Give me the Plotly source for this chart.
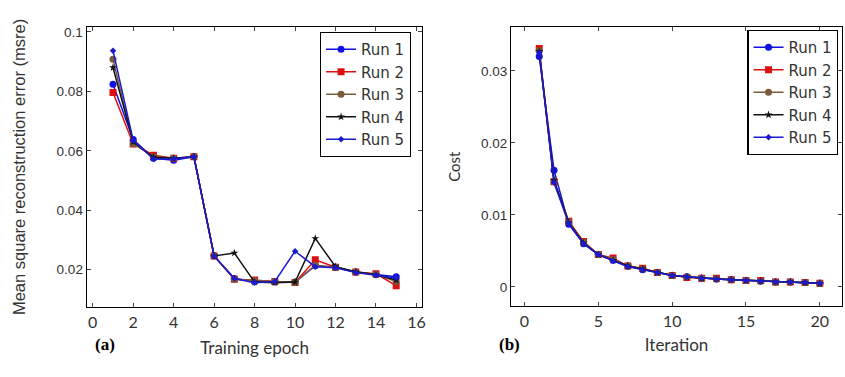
import plotly.graph_objects as go

# ---- data: panel (a) ----
epochs = list(range(1, 16))
msre_run1 = [0.0824, 0.0638, 0.0575, 0.0568, 0.0580, 0.0247, 0.0170, 0.0160, 0.0158, 0.0158, 0.0213, 0.0208, 0.0191, 0.0183, 0.0176]
msre_run2 = [0.0796, 0.0623, 0.0585, 0.0575, 0.0580, 0.0246, 0.0168, 0.0165, 0.0160, 0.0157, 0.0233, 0.0208, 0.0192, 0.0186, 0.0146]
msre_run3 = [0.0908, 0.0624, 0.0580, 0.0575, 0.0580, 0.0246, 0.0168, 0.0163, 0.0160, 0.0157, 0.0215, 0.0208, 0.0192, 0.0184, 0.0160]
msre_run4 = [0.0880, 0.0630, 0.0578, 0.0575, 0.0580, 0.0246, 0.0256, 0.0158, 0.0156, 0.0158, 0.0305, 0.0210, 0.0193, 0.0183, 0.0165]
msre_run5 = [0.0937, 0.0635, 0.0572, 0.0573, 0.0580, 0.0245, 0.0170, 0.0156, 0.0160, 0.0262, 0.0210, 0.0206, 0.0190, 0.0182, 0.0172]

# ---- data: panel (b) ----
iterations = list(range(1, 21))
cost_run1 = [0.0320, 0.0162, 0.0087, 0.0060, 0.0045, 0.0037, 0.0029, 0.0024, 0.0020, 0.0016, 0.0014, 0.0012, 0.0011, 0.0010, 0.0009, 0.0008, 0.0007, 0.0007, 0.0006, 0.0005]
cost_run2 = [0.0331, 0.0146, 0.0091, 0.0063, 0.0045, 0.0040, 0.0029, 0.0026, 0.0020, 0.0016, 0.0013, 0.0012, 0.0012, 0.0010, 0.0009, 0.0009, 0.0007, 0.0007, 0.0006, 0.0005]
cost_run3 = [0.0328, 0.0146, 0.0090, 0.0062, 0.0045, 0.0038, 0.0029, 0.0025, 0.0020, 0.0016, 0.0014, 0.0012, 0.0011, 0.0010, 0.0009, 0.0008, 0.0007, 0.0007, 0.0006, 0.0005]
cost_run4 = [0.0327, 0.0148, 0.0089, 0.0061, 0.0045, 0.0037, 0.0029, 0.0025, 0.0020, 0.0016, 0.0014, 0.0012, 0.0011, 0.0010, 0.0009, 0.0008, 0.0007, 0.0007, 0.0006, 0.0005]
cost_run5 = [0.0325, 0.0145, 0.0088, 0.0060, 0.0045, 0.0036, 0.0028, 0.0024, 0.0020, 0.0016, 0.0014, 0.0012, 0.0011, 0.0010, 0.0009, 0.0008, 0.0007, 0.0007, 0.0006, 0.0005]

run_names = ["Run 1", "Run 2", "Run 3", "Run 4", "Run 5"]
run_colors = ["#1010e0", "#dd1010", "#7a5a3a", "#111111", "#1a1ad0"]
run_symbols = ["circle", "square", "circle", "star", "diamond"]
run_sizes = [7, 7, 7, 6, 5]

W, H = 845, 377
def px_x(p): return p / W
def px_y(p): return 1 - p / H

fig = go.Figure()
msre_sets = [msre_run1, msre_run2, msre_run3, msre_run4, msre_run5]
cost_sets = [cost_run1, cost_run2, cost_run3, cost_run4, cost_run5]
for i in range(5):
    fig.add_trace(go.Scatter(
        x=epochs, y=msre_sets[i], name=run_names[i], mode="lines+markers",
        line=dict(color=run_colors[i], width=1.5),
        marker=dict(symbol=run_symbols[i], size=run_sizes[i], color=run_colors[i]),
        xaxis="x", yaxis="y", legend="legend"))
for i in range(5):
    fig.add_trace(go.Scatter(
        x=iterations, y=cost_sets[i], name=run_names[i], mode="lines+markers",
        line=dict(color=run_colors[i], width=1.5),
        marker=dict(symbol=run_symbols[i], size=run_sizes[i], color=run_colors[i]),
        xaxis="x2", yaxis="y2", legend="legend2"))

sans = "Liberation Sans, Arial, sans-serif"
cm = "Lato, sans-serif"
axis_common = dict(showline=True, linecolor="black", linewidth=1.2, mirror="allticks",
                   ticks="inside", ticklen=4, tickcolor="#444", showgrid=False, zeroline=False)
xfont = dict(family=cm, size=16, color="#333")
yfont = dict(family=sans, size=13.5, color="#333")

legend_common = dict(xanchor="left", yanchor="top", bgcolor="white",
                     bordercolor="black", borderwidth=1.2,
                     font=dict(family="DejaVu Sans, sans-serif", size=15, color="#333"),
                     tracegroupgap=0, itemwidth=30)

fig.update_layout(
    width=W, height=H, margin=dict(l=0, r=0, t=0, b=0),
    paper_bgcolor="white", plot_bgcolor="white",
    font=dict(family=sans, color="#333"),
    xaxis=dict(domain=[px_x(87), px_x(424)], range=[-0.3, 16.3], tickvals=list(range(0, 17, 2)),
               anchor="y", tickfont=xfont,
               title=dict(text="Training epoch", font=dict(family=cm, size=17, color="#333"), standoff=12),
               **axis_common),
    yaxis=dict(domain=[px_y(307), px_y(25)], range=[0.0073, 0.1017], tickvals=[0.02, 0.04, 0.06, 0.08, 0.1],
               ticktext=["0.02", "0.04", "0.06", "0.08", "0.1"], anchor="x", tickfont=yfont,
               **axis_common),
    xaxis2=dict(domain=[px_x(513), 1.0], range=[-0.9, 21.5], tickvals=[0, 5, 10, 15, 20],
                anchor="y2", tickfont=xfont,
                title=dict(text="Iteration", font=dict(family=cm, size=17, color="#333"), standoff=10),
                **axis_common),
    yaxis2=dict(domain=[px_y(306), px_y(25)], range=[-0.0027, 0.0361], tickvals=[0, 0.01, 0.02, 0.03],
                ticktext=["0", "0.01", "0.02", "0.03"], anchor="x2", tickfont=yfont,
                title=dict(text="Cost", font=dict(family=cm, size=15, color="#333"), standoff=16),
                **axis_common),
    legend=dict(x=px_x(321), y=px_y(30), **legend_common),
    legend2=dict(x=px_x(750), y=px_y(28), **legend_common),
    annotations=[
        dict(text="Mean square reconstruction error (msre)", textangle=-90,
             x=px_x(19), y=px_y(166), xref="paper", yref="paper", showarrow=False,
             xanchor="center", yanchor="middle",
             font=dict(family=sans, size=16.5, color="#333")),
        dict(text="<b>(a)</b>", x=px_x(93), y=px_y(356), xref="paper", yref="paper", showarrow=False,
             font=dict(family="Liberation Serif, serif", size=17, color="black")),
        dict(text="<b>(b)</b>", x=px_x(511), y=px_y(356), xref="paper", yref="paper", showarrow=False,
             font=dict(family="Liberation Serif, serif", size=17, color="black")),
    ],
)

fig.write_html("out.html", config={"displayModeBar": False},
               post_script="document.body.style.margin='0px';")
